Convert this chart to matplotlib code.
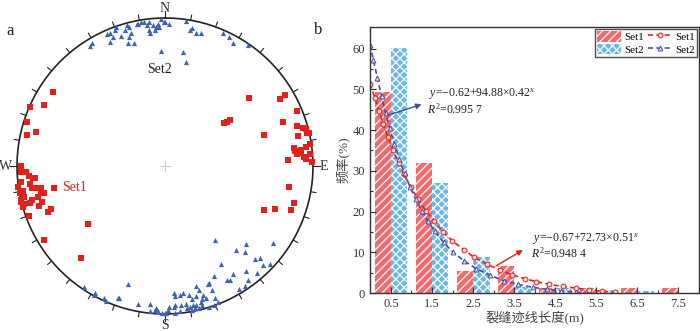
import matplotlib
matplotlib.use("Agg")
import matplotlib.pyplot as plt
import numpy as np

# ---- data -------------------------------------------------------------
# stereonet poles, net coordinates in % of primitive radius (east, north)
set1_east = [-76, -82, -91, -93, -87, -93, -97, -97, -94, -92, -89, -88, -97, -91, -99, -90,
             -87, -84, -75, -96, -84, -82, -98, -95, -86, -97, -90, -97, -91, -95, -83, -85,
             -96, -77, -79, -92, -52, -82, -57,
             57, 81, 78, 89, 80, 89, 93, 95, 40, 42, 44, 67, 90, 96, 97, 98, 87, 88, 92, 95,
             89, 92, 98, 94, 95, 83, 99, 84, 87, 74, 85, 67]
set1_north = [50, 41, 40, 30, 23, 21, 0, -4, -4, -7, -8, -8, -11, -12, -14, -15,
              -15, -15, -15, -17, -18, -18, -18, -21, -21, -23, -23, -24, -25, -26, -24, -27,
              -28, -29, -31, -34, -39, -50, -62,
              46, 48, 45, 37, 30, 27, 26, 25, 29, 30, 31, 21, 20, 22, 22, 15, 12, 10, 11, 13,
              8, 9, 8, 6, 5, 4, 3, -14, -25, -29, -30, -30]

set2_east = [-51, -49, -39, -37, -34, -33, -35, -37, -30, -27, -26, -24, -23, -24, -25, -21,
             -19, -18, -16, -14, -11, -12, -11, -10, -7, -6, -3, -4, -3, -1, 0, 3, -8, -5,
             14, 17, 18, 21, 24, 12, 14, 39, 43, 46, 56,
             34, 55, 73, 48, 54, 61, 64, 38, 55, 66, 71, 62, 33, 30, 42, 44, 46, 56, 54, 50,
             29, 32, 21, 23, 16, 18, 21, 12, 10, 6, 7, 26, 25, 34, 36, 33, 30, 25, 21, 20,
             17, 14, 11, 7, 6, 3, 2, 1, 0, -2, -5, -7, -6, -10, -10, -18, -25, -32, -31,
             -41, -40, -48, -47, -55, 7, 10, 15, 18, 23, 19, 24, 28]
set2_north = [81, 83, 89, 90, 92, 94, 87, 84, 88, 92, 95, 94, 90, 87, 83, 83,
              96, 96, 97, 97, 97, 95, 92, 90, 92, 94, 99, 94, 78, 97, 97, 96, 95, 96,
              98, 92, 93, 90, 90, 77, 70, 90, 87, 83, 82,
              -50, -53, -52, -57, -58, -63, -62, -66, -71, -67, -66, -72, -74, -79, -77, -77,
              -73, -77, -81, -83, -80, -84, -81, -84, -87, -90, -88, -86, -87, -86, -88, -87,
              -90, -89, -92, -94, -95, -94, -94, -96, -95, -93, -94, -94, -95, -95, -97, -99,
              -99, -99, -98, -97, -96, -93, -98, -93, -80, -89, -89, -89, -91, -87, -86, -82,
              -99, -98, -96, -97, -96, -94, -92, -89]

# histogram of trace length
length_labels = ["0.5", "1.5", "2.5", "3.5", "4.5", "5.5", "6.5", "7.5"]
set1_freq = [49.4, 31.8, 5.3, 6.7, 1.3, 1.3, 1.3, 1.3]
set2_freq = [60.1, 27.1, 8.8, 1.4, 1.3, 0.8, 0.6, 0.0]

# fitted curves (x in bin position, 0 = first bin)
fit1_x = [-0.51, -0.39, -0.29, -0.19, -0.07, 0.05, 0.19, 0.31, 0.49, 0.65, 0.85, 1.05, 1.27,
          1.49, 1.78, 2.02, 2.35, 2.66, 2.94, 3.26, 3.54, 3.86, 4.19, 4.51, 4.83, 5.15, 5.45]
fit1_y = [51.4, 47.9, 44.6, 41.4, 38.3, 35.0, 31.9, 29.2, 25.9, 23.1, 20.2, 17.6, 15.0,
          12.8, 10.6, 8.8, 7.0, 5.6, 4.5, 3.5, 2.8, 2.1, 1.6, 1.2, 0.8, 0.4, 0.2]
fit2_x = [-0.51, -0.43, -0.33, -0.23, -0.13, -0.03, 0.08, 0.2, 0.33, 0.47, 0.6, 0.75, 0.9,
          1.07, 1.28, 1.5, 1.78, 2.07, 2.4, 2.75, 3.1, 3.45, 3.8, 4.15, 4.5, 4.7]
fit2_y = [61.0, 57.3, 52.8, 48.4, 44.2, 40.4, 36.7, 33.0, 29.4, 25.9, 23.1, 20.2, 17.6,
          15.1, 12.4, 10.1, 7.9, 6.0, 4.4, 3.0, 2.1, 1.4, 0.9, 0.5, 0.2, 0.1]

# ---- style ------------------------------------------------------------
plt.rcParams['font.family'] = ['Liberation Serif', 'Noto Sans CJK SC']
plt.rcParams['mathtext.fontset'] = 'custom'
plt.rcParams['mathtext.rm'] = 'Liberation Serif'
plt.rcParams['mathtext.it'] = 'Liberation Serif:italic'
plt.rcParams['hatch.linewidth'] = 0.9

red_pt = '#e3201b'
blue_pt = '#3d63b0'
bar1_c = '#ee6b6e'
bar2_c = '#6bb8e6'
txt_c = '#333333'

fig = plt.figure(figsize=(7, 3.31), dpi=100)

# ---- (a) stereonet ----------------------------------------------------
ax1 = fig.add_axes([0, 0, 330 / 700, 330 / 331])
lim = 165 / 1.48
ax1.set_xlim(-lim, lim)
ax1.set_ylim(-lim, lim)
ax1.axis('off')

th = np.linspace(0, 2 * np.pi, 400)
ax1.plot(100 * np.sin(th), 100 * np.cos(th), color='#222222', lw=1.2)
for az in range(0, 360, 10):
    a = np.radians(az)
    r2 = 105 if az % 90 == 0 else 103.5
    ax1.plot([100 * np.sin(a), r2 * np.sin(a)], [100 * np.cos(a), r2 * np.cos(a)],
             color='#222222', lw=0.8)
ax1.plot([-3.5, 3.5], [0, 0], color='#cccccc', lw=0.8)
ax1.plot([0, 0], [-3.5, 3.5], color='#cccccc', lw=0.8)

ax1.scatter(set1_east, set1_north, marker='s', s=13, color=red_pt, linewidths=0, zorder=3)
ax1.scatter(set2_east, set2_north, marker='^', s=14, color=blue_pt, linewidths=0, zorder=3)

for lab, (x, y) in {'N': (0, 106.5), 'S': (0, -108), 'W': (-108, 0), 'E': (107, 0)}.items():
    ax1.text(x, y, lab, ha='center', va='center', fontsize=10, color=txt_c)
ax1.text(-3.4, 64.9, 'Set2', ha='center', va='center', fontsize=10, color='#222222')
ax1.text(-61.4, -14.7, 'Set1', ha='center', va='center', fontsize=10, color=red_pt)

fig.text(10 / 700, 1 - 31 / 331, 'a', fontsize=12, ha='center', va='center', color='#222222')
fig.text(318 / 700, 1 - 30 / 331, 'b', fontsize=12, ha='center', va='center', color='#222222')

# ---- (b) histogram ----------------------------------------------------
ax2 = fig.add_axes([370 / 700, 38 / 331, 329 / 700, 266 / 331])
pos = np.arange(len(length_labels))
b1 = ax2.bar(pos - 0.2, set1_freq, width=0.4, color=bar1_c, edgecolor='white',
             linewidth=0, hatch='////', label='Set1')
b2 = ax2.bar(pos + 0.2, set2_freq, width=0.4, color=bar2_c, edgecolor='white',
             linewidth=0, hatch='xxxx', label='Set2')
l1, = ax2.plot(fit1_x, fit1_y, ls=(0, (3, 2)), color=red_pt, lw=1.2, marker='o', ms=3.5,
               mfc='#fbd3d3', mec=red_pt, mew=0.7, label='Set1')
l2, = ax2.plot(fit2_x, fit2_y, ls=(0, (3, 2)), color='#4a4fa3', lw=1.2, marker='^', ms=3.5,
               mfc='#dfe0f2', mec='#4a4fa3', mew=0.7, label='Set2')

ax2.set_xlim(-0.51, 7.41)
ax2.set_ylim(0, 65.3)
ax2.set_xticks(pos)
ax2.set_xticklabels(length_labels)
ax2.set_xticks(pos + 0.5, minor=True)
ax2.set_yticks(np.arange(0, 61, 10))
ax2.set_yticks(np.arange(5, 65, 10), minor=True)
ax2.tick_params(which='both', direction='in', width=0.8, color=txt_c, labelcolor=txt_c,
                labelsize=9, pad=3.5)
ax2.tick_params(which='major', length=4)
ax2.tick_params(which='minor', length=2)
for sp in ax2.spines.values():
    sp.set_linewidth(1.0)
    sp.set_color('#333333')
ax2.set_ylabel('频率(%)', fontsize=9.5, color='#444444', labelpad=2)
ax2.set_xlabel('裂缝迹线长度(m)', fontsize=9.5, color='#444444', labelpad=1)

ax2.annotate('', xy=(0.81, 46.5), xytext=(-0.15, 43.4),
             arrowprops=dict(arrowstyle='-|>', color='#3b4fa0', lw=1.0, mutation_scale=8))
ax2.text(0.93, 48.8, r'$y$=−0.62+94.88×0.42$^{x}$', fontsize=8.5, color='#222222', va='center')
ax2.text(0.88, 45.2, r'$R^{2}$=0.995 7', fontsize=8.5, color='#222222', va='center')
ax2.annotate('', xy=(3.27, 10.9), xytext=(2.50, 6.3),
             arrowprops=dict(arrowstyle='-|>', color=red_pt, lw=1.0, mutation_scale=8))
ax2.text(3.46, 13.3, r'$y$=−0.67+72.73×0.51$^{x}$', fontsize=8.5, color='#222222', va='center')
ax2.text(3.41, 9.7, r'$R^{2}$=0.948 4', fontsize=8.5, color='#222222', va='center')

leg = ax2.legend(handles=[b1, b2, l1, l2], labels=['Set1', 'Set2', 'Set1', 'Set2'], ncol=2,
                 loc='upper right', fontsize=8, frameon=True, fancybox=False,
                 edgecolor='#222222', handlelength=2.1, handleheight=1.1, columnspacing=0.35,
                 handletextpad=0.35, borderaxespad=0.15, borderpad=0.2, labelspacing=0.15)
leg.get_frame().set_linewidth(1.0)

fig.savefig('out.png', dpi=100)
